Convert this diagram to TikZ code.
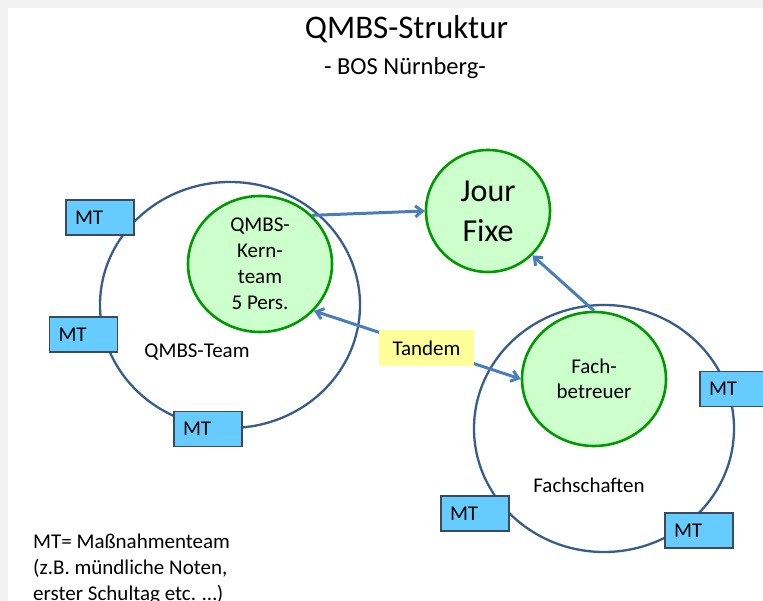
\documentclass[tikz,border=0pt]{standalone}
\usepackage{fontspec}
\setmainfont{Carlito}
\usetikzlibrary{arrows.meta,shapes.geometric}
\definecolor{bggray}{HTML}{F2F2F2}
\definecolor{ringblue}{HTML}{385D8A}
\definecolor{kerngreen}{HTML}{009900}
\definecolor{kernfill}{HTML}{CCFFCC}
\definecolor{mtfill}{HTML}{66CCFF}
\definecolor{mtline}{HTML}{3B4B5B}
\definecolor{arrowblue}{HTML}{4A7EBB}
\definecolor{tandemfill}{HTML}{FFFF99}
\tikzset{
  ring/.style={ellipse, draw=ringblue, line width=2.3pt, minimum width=260pt, minimum height=246pt, inner sep=0pt},
  greenc/.style={ellipse, draw=kerngreen, fill=kernfill, line width=2.6pt, inner sep=0pt, align=center, font=\fontsize{21}{26}\selectfont},
  mtbox/.style={rectangle, draw=mtline, fill=mtfill, line width=1.2pt, minimum height=35pt, text width=50pt, inner xsep=9pt, inner ysep=0pt, align=left, font=\fontsize{21}{25}\selectfont},
  conn/.style={draw=arrowblue, line width=3pt},
  tip/.style={-{Straight Barb[length=7pt,width=11pt]}},
  dtip/.style={{Straight Barb[length=7pt,width=11pt]}-{Straight Barb[length=7pt,width=11pt]}},
  lbl/.style={inner sep=0pt, font=\fontsize{21}{25}\selectfont}
}
\begin{document}
\begin{tikzpicture}[x=1pt,y=-1pt]
\useasboundingbox (0,0) rectangle (763,601);
\fill[bggray] (0,0) rectangle (763,601);
\fill[white] (8,8) rectangle (763,601);

% title
\node[inner sep=0pt, anchor=base, font=\fontsize{33}{40}\selectfont] (title) at (406.5,39) {QMBS-Struktur};
\node[inner sep=0pt, anchor=base, font=\fontsize{24.5}{30}\selectfont] (subtitle) at (405,75) {- BOS Nürnberg-};

% rings
\node[ring] (qteam) at (230,305) {};
\node[ring, minimum height=247pt] (fschaft) at (604,428.5) {};

% green circles
\node[greenc, minimum width=144pt, minimum height=136pt] (kern) at (260,264) {QMBS-\\Kern-\\team\\5 Pers.};
\node[greenc, minimum width=124pt, minimum height=122pt, font=\fontsize{32}{40}\selectfont] (jour) at (488,211) {Jour\\Fixe};
\node[greenc, minimum width=144pt, minimum height=134pt, font=\fontsize{21}{25}\selectfont] (fach) at (594,379) {Fach-\\betreuer};

% labels
\node[lbl] (qteamlbl) at (197,352) {QMBS-Team};
\node[lbl] (fschaftlbl) at (589,485) {Fachschaften};

% MT boxes
\node[mtbox] (mt1) at (100,217.5) {MT};
\node[mtbox] (mt2) at (83.5,334.5) {MT};
\node[mtbox] (mt3) at (208,429) {MT};
\node[mtbox] (mt4) at (734,389) {MT};
\node[mtbox] (mt5) at (475,513.5) {MT};
\node[mtbox] (mt6) at (699,530.5) {MT};

% connectors
\draw[conn, tip] (kern.43) -- (jour.180);
\draw[conn, tip] (fach.north) -- (jour.-45);
\draw[conn, dtip] (kern.-41) -- (fach.180);
\node[fill=tandemfill, minimum width=95pt, minimum height=36pt, inner sep=0pt, font=\fontsize{21}{25}\selectfont] (tandem) at (426.5,348) {Tandem};

% legend
\node[lbl, anchor=base west] (leg1) at (33,548) {MT= Maßnahmenteam};
\node[lbl, anchor=base west] (leg2) at (33,574) {(z.B. mündliche Noten,};
\node[lbl, anchor=base west] (leg3) at (33,600) {erster Schultag etc. …)};
\end{tikzpicture}
\end{document}
